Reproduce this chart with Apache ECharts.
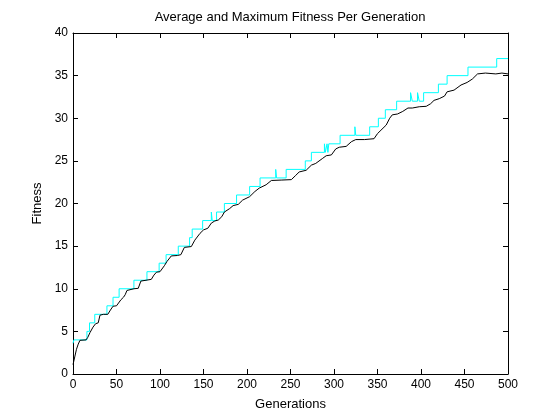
<!DOCTYPE html>
<html>
<head>
<meta charset="utf-8">
<script src="https://cdn.jsdelivr.net/npm/echarts@6/dist/echarts.min.js"></script>
<style>
  html, body { margin: 0; padding: 0; background: #ffffff; }
  #chart { width: 560px; height: 420px; }
</style>
</head>
<body>
<div id="chart"></div>
<script>
// ---- Data ----
const titleText = 'Average and Maximum Fitness Per Generation';
const xName = 'Generations';
const yName = 'Fitness';

// Maximum fitness: generation where the value changes, and the value held from there
const maxGen = [0, 1, 16, 19, 25, 39, 46, 53, 70, 85, 99, 107, 121, 134, 137, 149, 159, 160, 165, 174,
                188, 203, 215, 233, 234, 245, 267, 274, 289, 290, 292, 293, 294, 307, 324, 325, 341, 351, 359, 372,
                388, 390, 396, 398, 403, 420, 430, 454, 487, 500];
const maxVal = [3.6, 4, 5, 6, 7, 8, 9, 10, 11, 12, 13, 14, 15, 16, 17, 18, 19, 18, 19, 20,
                21, 22, 23, 24, 23, 24, 25, 26, 27, 26, 27, 26, 27, 28, 29, 28, 29, 30, 31, 32,
                33, 32, 33, 32, 33, 34, 35, 36, 37, 37];

// Average fitness sampled along the curve
const avgGen = [0, 2, 4, 6, 8, 10, 15, 17, 19.5, 23, 26, 29, 31, 35, 40, 43, 46, 50, 52, 55,
                58, 60, 62, 64, 70, 75, 78, 84, 90, 93, 96, 100, 102, 105, 108, 113, 120, 124, 128, 136,
                140, 142, 146, 150, 155, 159, 163, 167, 171, 174, 180, 184, 190, 195, 203, 209, 214, 222, 228, 240,
                251, 256, 260, 268, 274, 279, 287, 291, 297, 302, 306, 314, 320, 325, 335, 346, 350, 354, 360, 364,
                367, 373, 379, 385, 390, 398, 406, 411, 415, 421, 427, 430, 438, 446, 453, 459, 465, 474, 486, 493, 500];
const avgVal = [1.1, 2.0, 2.9, 3.5, 3.95, 4.0, 4.0, 4.3, 4.85, 5.5, 5.9, 6.0, 6.9, 7.0, 7.0, 7.5, 7.95, 8.0, 8.1, 8.7,
                9.0, 9.3, 9.8, 10.0, 10.0, 10.05, 10.9, 11.0, 11.1, 11.6, 11.95, 12.0, 12.1, 12.7, 13.2, 13.85, 13.9, 14.0, 14.85, 14.95,
                15.7, 15.9, 16.5, 16.9, 17.1, 17.7, 17.95, 18.06, 18.45, 19.0, 19.4, 19.75, 19.9, 20.4, 20.8, 21.4, 21.8, 22.2, 22.7, 22.75,
                22.8, 23.3, 23.7, 23.9, 24.5, 24.7, 25.3, 25.6, 25.7, 26.4, 26.6, 26.7, 27.25, 27.5, 27.5, 27.6, 28.2, 28.6, 29.2, 30.0,
                30.4, 30.5, 30.8, 31.2, 31.2, 31.35, 31.4, 31.7, 32.1, 32.3, 32.6, 33.1, 33.3, 33.9, 34.2, 34.6, 35.2, 35.3, 35.2, 35.3, 35.2];

const xMin = 0, xMax = 500, xStep = 50;
const yMin = 0, yMax = 40, yStep = 5;

// ---- Chart ----
const FONT = "'Liberation Sans', Arial, Helvetica, sans-serif";
const chart = echarts.init(document.getElementById('chart'), null, { renderer: 'canvas' });

const maxData = maxGen.map((g, i) => [g, maxVal[i]]);
const avgData = avgGen.map((g, i) => [g, avgVal[i]]);

function xAx(pos, show) {
  return {
    type: 'value', position: pos, min: xMin, max: xMax, interval: xStep,
    axisLine: { show: true, onZero: false, lineStyle: { color: '#000', width: 1 } },
    axisTick: { show: true, inside: true, length: 5, lineStyle: { color: '#000', width: 1 } },
    axisLabel: { show: show, color: '#000', fontSize: 12, fontFamily: FONT, margin: 5 },
    splitLine: { show: false },
    name: show ? xName : '', nameLocation: 'middle', nameGap: 24,
    nameTextStyle: { color: '#000', fontSize: 13, fontFamily: FONT }
  };
}
function yAx(pos, show) {
  return {
    type: 'value', position: pos, min: yMin, max: yMax, interval: yStep,
    axisLine: { show: true, onZero: false, lineStyle: { color: '#000', width: 1 } },
    axisTick: { show: true, inside: true, length: 5, lineStyle: { color: '#000', width: 1 } },
    axisLabel: { show: show, color: '#000', fontSize: 12, fontFamily: FONT, margin: 5 },
    splitLine: { show: false },
    name: show ? yName : '', nameLocation: 'middle', nameGap: 21, nameRotate: 90,
    nameTextStyle: { color: '#000', fontSize: 13, fontFamily: FONT }
  };
}

chart.setOption({
  backgroundColor: '#ffffff',
  animation: false,
  title: {
    text: titleText, left: 290, top: 11, textAlign: 'center', padding: 0,
    textStyle: { color: '#000', fontSize: 13, fontWeight: 'normal', fontFamily: FONT }
  },
  grid: { left: 73, right: 52, top: 33, bottom: 46, containLabel: false },
  xAxis: [xAx('bottom', true), xAx('top', false)],
  yAxis: [yAx('left', true), yAx('right', false)],
  series: [
    {
      name: 'Maximum', type: 'line', xAxisIndex: 0, yAxisIndex: 0,
      data: maxData, step: 'end', showSymbol: false, symbol: 'none',
      lineStyle: { color: '#00ffff', width: 1 }, z: 2
    },
    {
      name: 'Average', type: 'line', xAxisIndex: 0, yAxisIndex: 0,
      data: avgData, showSymbol: false, symbol: 'none',
      lineStyle: { color: '#000000', width: 1 }, z: 3
    }
  ]
});
</script>
</body>
</html>
